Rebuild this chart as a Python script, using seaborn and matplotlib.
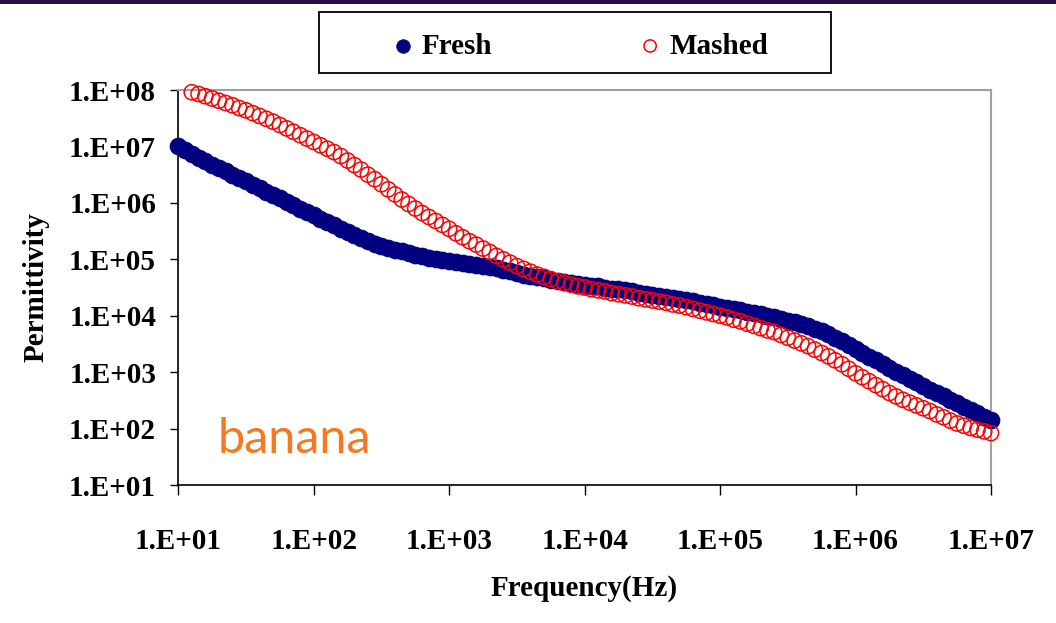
import numpy as np
import pandas as pd
import seaborn as sns
import matplotlib.pyplot as plt
from matplotlib.patches import Rectangle
from matplotlib.ticker import FixedLocator, FuncFormatter, NullLocator

# log10(frequency / Hz) of the sweep points
fresh_logf = [1.00, 1.05, 1.10, 1.15, 1.20, 1.25, 1.30, 1.35, 1.40, 1.45,
              1.50, 1.55, 1.60, 1.65, 1.70, 1.75, 1.80, 1.85, 1.90, 1.95,
              2.00, 2.05, 2.10, 2.15, 2.20, 2.25, 2.30, 2.35, 2.40, 2.45,
              2.50, 2.55, 2.60, 2.65, 2.70, 2.75, 2.80, 2.85, 2.90, 2.95,
              3.00, 3.05, 3.10, 3.15, 3.20, 3.25, 3.30, 3.35, 3.40, 3.45,
              3.50, 3.55, 3.60, 3.65, 3.70, 3.75, 3.80, 3.85, 3.90, 3.95,
              4.00, 4.05, 4.10, 4.15, 4.20, 4.25, 4.30, 4.35, 4.40, 4.45,
              4.50, 4.55, 4.60, 4.65, 4.70, 4.75, 4.80, 4.85, 4.90, 4.95,
              5.00, 5.05, 5.10, 5.15, 5.20, 5.25, 5.30, 5.35, 5.40, 5.45,
              5.50, 5.55, 5.60, 5.65, 5.70, 5.75, 5.80, 5.85, 5.90, 5.95,
              6.00, 6.05, 6.10, 6.15, 6.20, 6.25, 6.30, 6.35, 6.40, 6.45,
              6.50, 6.55, 6.60, 6.65, 6.70, 6.75, 6.80, 6.85, 6.90, 6.95,
              7.00]
# log10(permittivity), fresh banana
fresh_logp = [7.00, 6.94, 6.87, 6.80, 6.74, 6.68, 6.62, 6.56, 6.50, 6.44,
              6.38, 6.32, 6.26, 6.20, 6.14, 6.08, 6.02, 5.96, 5.90, 5.84,
              5.78, 5.72, 5.66, 5.60, 5.54, 5.48, 5.43, 5.38, 5.33, 5.28,
              5.24, 5.20, 5.17, 5.14, 5.11, 5.08, 5.05, 5.03, 5.01, 4.99,
              4.97, 4.95, 4.94, 4.92, 4.90, 4.88, 4.86, 4.84, 4.81, 4.79,
              4.76, 4.73, 4.71, 4.68, 4.66, 4.64, 4.62, 4.60, 4.58, 4.56,
              4.55, 4.53, 4.52, 4.50, 4.48, 4.47, 4.45, 4.43, 4.41, 4.39,
              4.37, 4.35, 4.34, 4.32, 4.30, 4.28, 4.26, 4.23, 4.21, 4.19,
              4.16, 4.14, 4.12, 4.10, 4.07, 4.05, 4.03, 4.00, 3.97, 3.94,
              3.91, 3.88, 3.85, 3.81, 3.77, 3.73, 3.67, 3.61, 3.55, 3.48,
              3.41, 3.34, 3.27, 3.21, 3.14, 3.07, 3.01, 2.95, 2.88, 2.82,
              2.75, 2.69, 2.63, 2.57, 2.51, 2.45, 2.39, 2.33, 2.27, 2.21,
              2.15]

mashed_logf = fresh_logf[2:]
# log10(permittivity), mashed banana
mashed_logp = [7.96, 7.93, 7.89, 7.85, 7.81, 7.77, 7.73, 7.68,
               7.64, 7.59, 7.54, 7.49, 7.44, 7.38, 7.32, 7.26, 7.20, 7.14,
               7.08, 7.02, 6.96, 6.90, 6.83, 6.75, 6.67, 6.59, 6.50, 6.42,
               6.33, 6.24, 6.15, 6.06, 5.98, 5.90, 5.82, 5.75, 5.68, 5.61,
               5.54, 5.46, 5.39, 5.32, 5.26, 5.19, 5.13, 5.06, 5.00, 4.94,
               4.88, 4.83, 4.78, 4.73, 4.69, 4.65, 4.61, 4.58, 4.55, 4.52,
               4.50, 4.47, 4.45, 4.43, 4.40, 4.38, 4.36, 4.34, 4.31, 4.29,
               4.27, 4.25, 4.23, 4.20, 4.18, 4.15, 4.12, 4.09, 4.06, 4.03,
               4.00, 3.97, 3.93, 3.90, 3.86, 3.82, 3.78, 3.74, 3.71, 3.66,
               3.61, 3.56, 3.51, 3.46, 3.40, 3.34, 3.28, 3.21, 3.14, 3.06,
               2.98, 2.91, 2.84, 2.77, 2.70, 2.63, 2.57, 2.51, 2.46, 2.41,
               2.36, 2.31, 2.25, 2.20, 2.14, 2.09, 2.05, 2.01, 1.98, 1.95,
               1.92]

decades = [1, 2, 3, 4, 5, 6, 7, 8]

fresh = pd.DataFrame({"f": 10.0 ** np.array(fresh_logf), "p": 10.0 ** np.array(fresh_logp)})
mashed = pd.DataFrame({"f": 10.0 ** np.array(mashed_logf), "p": 10.0 ** np.array(mashed_logp)})

sns.set_style("white")
plt.rcParams['font.family'] = ['Liberation Serif', 'DejaVu Serif']
plt.rcParams['font.weight'] = 'bold'
plt.rcParams['text.color'] = 'black'
plt.rcParams['axes.labelcolor'] = 'black'
plt.rcParams['xtick.color'] = 'black'
plt.rcParams['ytick.color'] = 'black'

fig = plt.figure(figsize=(10.56, 6.23), dpi=100)
ax = fig.add_axes([0.1688, 0.2215, 0.7696, 0.634])

sns.scatterplot(data=fresh, x="f", y="p", ax=ax, color="#000080", edgecolor="#000080",
                s=150, linewidth=0.5, marker="o", label="Fresh", clip_on=False, zorder=3)
sns.scatterplot(data=mashed, x="f", y="p", ax=ax, facecolor="none", edgecolor="#ff0000",
                s=120, linewidth=1.1, marker="o", label="Mashed", clip_on=False, zorder=4)

ax.set_xscale("log")
ax.set_yscale("log")
ax.set_xlim(1e1, 1e7)
ax.set_ylim(1e1, 1e8)

fmt = FuncFormatter(lambda v, pos: "1.E+%02d" % int(round(np.log10(v))))
ax.xaxis.set_major_locator(FixedLocator([10.0 ** d for d in decades[:-1]]))
ax.yaxis.set_major_locator(FixedLocator([10.0 ** d for d in decades]))
ax.xaxis.set_major_formatter(fmt)
ax.yaxis.set_major_formatter(fmt)
ax.xaxis.set_minor_locator(NullLocator())
ax.yaxis.set_minor_locator(NullLocator())

ax.tick_params(axis="x", direction="out", length=7, width=1, pad=24, labelsize=21, bottom=True)
ax.tick_params(axis="y", direction="out", length=6, width=1, pad=10, labelsize=21, left=True)
for lab in ax.get_xticklabels() + ax.get_yticklabels():
    lab.set_fontweight("bold")

for side in ["left", "bottom"]:
    ax.spines[side].set_color("black")
    ax.spines[side].set_linewidth(1.2)
for side in ["top", "right"]:
    ax.spines[side].set_color("#a0a0a0")
    ax.spines[side].set_linewidth(1.5)

ax.set_xlabel("Frequency(Hz)", fontsize=21, fontweight="bold", labelpad=14)
ax.set_ylabel("Permittivity", fontsize=21, fontweight="bold", labelpad=14)

ax.text(0.049, 0.081, "banana", transform=ax.transAxes, fontsize=35,
        family=["Lato", "DejaVu Sans"], fontweight="normal", color="#f47920", va="baseline")

ax.get_legend().remove()
handles, labels = ax.get_legend_handles_labels()
fig.legend(handles, labels, loc="center", bbox_to_anchor=(0.5475, 0.926), ncol=2,
           frameon=False, prop={"weight": "bold", "size": 21},
           handletextpad=0.15, columnspacing=4.9, handlelength=1.0, markerscale=0.8)
fig.patches.append(Rectangle((319 / 1056, 1 - 73 / 623), 512 / 1056, 61 / 623,
                             transform=fig.transFigure, facecolor="none",
                             edgecolor="black", linewidth=1.3))
fig.patches.append(Rectangle((0, 1 - 4 / 623), 1, 4 / 623, transform=fig.transFigure,
                             facecolor="#2a0d45", edgecolor="none"))

fig.savefig("out.png", dpi=100)
